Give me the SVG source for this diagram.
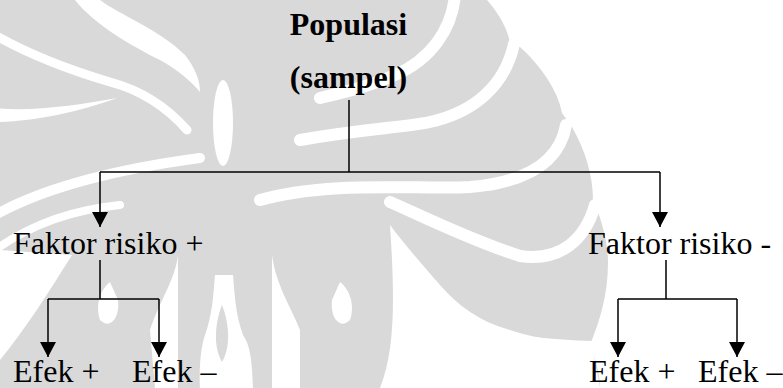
<svg xmlns="http://www.w3.org/2000/svg" width="783" height="388" viewBox="0 0 783 388">
<defs>
<style>
.t{font-family:"Liberation Serif","Times New Roman",Tinos,"DejaVu Serif",serif;font-size:32px;fill:#000}
.b{font-weight:bold}
.ln{stroke:#000;stroke-width:1.5;fill:none}
.wm{fill:#d9d9d9}
.wh{fill:#fff}
.ws{stroke:#fff;fill:none;stroke-linecap:round}
</style>
<marker id="ah" markerUnits="userSpaceOnUse" markerWidth="18" markerHeight="16" refX="15" refY="8" orient="auto">
<path d="M0,0 L15,8 L0,16 Z" fill="#000"/>
</marker>
</defs>
<rect width="783" height="388" fill="#fff"/>
<g id="watermark">
<path class="wm" d="M0,0 H487 C500,15 508,30 510,43 L520,47 C540,65 558,90 562,113 L572,127 C585,150 593,175 593,200 C600,215 608,240 608,262 C608,295 600,320 590,345 C596,360 600,375 600,388 H0 Z"/>
<path class="wh" d="M75,0 L100,0 C120,15 160,30 185,55 C195,68 200,80 200,92 C190,80 175,68 160,60 C130,45 95,25 75,0 Z"/>
<path class="ws" stroke-width="9" d="M-5,35 C30,55 70,70 110,82 C140,90 165,105 187,130"/>
<path class="wh" d="M-5,108 C30,112 80,105 117,98 C80,112 30,122 -5,122 Z"/>
<path class="ws" stroke-width="10" d="M-5,215 C40,190 110,170 200,158"/>
<path class="ws" stroke-width="8" d="M-5,250 C30,225 70,210 120,205"/>
<path class="wh" d="M0,250 L72,255 C50,290 25,330 0,360 Z"/>
<ellipse class="wh" cx="223" cy="123" rx="10" ry="43"/>
<path class="ws" stroke-width="12" d="M455,-5 C452,30 430,60 395,75 C370,86 345,92 320,98"/>
<path class="ws" stroke-width="12" d="M514,44 C505,85 475,112 430,122 C400,128 370,128 300,140"/>
<path class="ws" stroke-width="12" d="M566,125 C560,160 530,182 470,187 C420,190 330,180 260,200"/>
<path class="ws" stroke-width="12" d="M390,202 C420,215 470,240 520,256 C560,262 585,240 595,205"/>
<path class="wh" d="M390,225 C405,245 420,262 440,285 C457,305 480,322 510,330 C540,340 570,342 592,345 L600,388 L380,388 C395,350 395,300 390,225 Z"/>
<path class="ws" stroke-width="10" d="M455,330 C500,340 560,345 592,346"/>
<path class="wh" d="M110,282 C100,290 95,305 100,320 C110,330 120,318 118,300 Z"/>
<path class="wh" d="M150,330 C160,300 175,280 178,255 L178,388 L155,388 Z"/>
<path class="wh" d="M272,255 C276,285 290,305 300,330 L300,388 L272,388 Z"/>
<path class="wh" d="M340,282 C350,290 355,305 350,320 C340,330 330,318 332,300 Z"/>
<path class="wh" d="M215,275 C213,300 212,315 205,335 C198,355 200,388 200,388 L253,388 C252,360 250,345 243,335 C236,315 235,300 233,275 Z"/>
<path class="wm" d="M222,305 C216,320 212,345 222,362 C232,345 228,320 222,305 Z"/>
</g>
<g id="connectors">
<path class="ln" d="M349,100 V172"/>
<path class="ln" d="M100,172 H660"/>
<path class="ln" d="M100,172 V227" marker-end="url(#ah)"/>
<path class="ln" d="M660,172 V227" marker-end="url(#ah)"/>
<path class="ln" d="M100,260 V299 M48,299 H159"/>
<path class="ln" d="M48,299 V357" marker-end="url(#ah)"/>
<path class="ln" d="M159,299 V357" marker-end="url(#ah)"/>
<path class="ln" d="M666,260 V299 M618,299 H737"/>
<path class="ln" d="M618,299 V357" marker-end="url(#ah)"/>
<path class="ln" d="M737,299 V357" marker-end="url(#ah)"/>
</g>
<g id="node-populasi">
<text class="t b" x="348.5" y="35" text-anchor="middle">Populasi</text>
<text class="t b" x="348.5" y="88" text-anchor="middle">(sampel)</text>
</g>
<g id="node-faktor-plus"><text class="t" x="13" y="254">Faktor risiko +</text></g>
<g id="node-faktor-minus"><text class="t" x="588" y="254">Faktor risiko -</text></g>
<g id="node-efek-plus-1"><text class="t" x="13" y="382">Efek +</text></g>
<g id="node-efek-minus-1"><text class="t" x="132" y="382">Efek –</text></g>
<g id="node-efek-plus-2"><text class="t" x="589" y="382">Efek +</text></g>
<g id="node-efek-minus-2"><text class="t" x="698" y="382">Efek –</text></g>
</svg>
